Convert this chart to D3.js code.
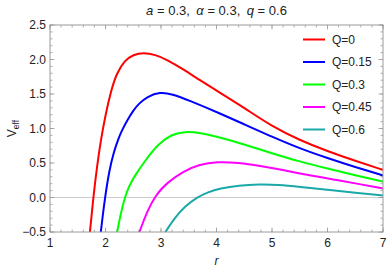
<!DOCTYPE html>
<html>
<head>
<meta charset="utf-8">
<script src="https://cdn.jsdelivr.net/npm/d3@7"></script>
<style>
  body { margin: 0; background: #fff; }
  svg text { font-family: "Liberation Sans", Arial, sans-serif; fill: #222; }
</style>
</head>
<body>
<div id="chart"></div>
<script>
// series: r values and V_eff values
const labels = ["Q=0", "Q=0.15", "Q=0.3", "Q=0.45", "Q=0.6"];
const colors = ["#ff0000", "#0000ff", "#00ff00", "#ff00ff", "#1aa8a8"];

const rQ0 = [1.70, 1.72, 1.78, 1.85, 1.92, 2.0, 2.1, 2.2, 2.35, 2.5, 2.68, 2.9, 3.1, 3.4, 3.7, 4.06, 4.5, 5.0, 5.5, 6.0, 6.5, 7];
const vQ0 = [-0.65, -0.5, 0, 0.47, 0.85, 1.2, 1.55, 1.8, 1.99, 2.07, 2.10, 2.07, 2.0, 1.86, 1.70, 1.52, 1.30, 1.03, 0.83, 0.67, 0.53, 0.40];

const rQ015 = [1.90, 1.915, 1.99, 2.07, 2.15, 2.23, 2.3, 2.4, 2.5, 2.6, 2.75, 2.98, 3.2, 3.5, 4.06, 4.5, 5.0, 5.5, 6.0, 6.5, 7];
const vQ015 = [-0.62, -0.5, 0, 0.40, 0.66, 0.85, 0.98, 1.13, 1.26, 1.36, 1.46, 1.53, 1.50, 1.41, 1.22, 1.06, 0.88, 0.71, 0.57, 0.44, 0.32];

const rQ03 = [2.19, 2.21, 2.27, 2.34, 2.42, 2.53, 2.71, 2.95, 3.2, 3.43, 3.7, 4.06, 4.5, 5.0, 5.5, 6.0, 6.5, 7];
const vQ03 = [-0.6, -0.5, -0.25, -0.02, 0.16, 0.32, 0.53, 0.78, 0.92, 0.955, 0.94, 0.87, 0.77, 0.64, 0.52, 0.42, 0.32, 0.23];

const rQ045 = [2.58, 2.61, 2.75, 2.9, 3.1, 3.4, 3.7, 4.0, 4.4, 4.78, 5.2, 5.6, 6.2, 6.6, 7];
const vQ045 = [-0.58, -0.5, -0.2, 0.03, 0.21, 0.38, 0.48, 0.52, 0.505, 0.46, 0.40, 0.33, 0.25, 0.19, 0.13];

const rQ06 = [3.04, 3.08, 3.25, 3.43, 3.64, 3.85, 4.06, 4.4, 4.78, 5.1, 5.5, 6.0, 6.5, 7];
const vQ06 = [-0.55, -0.5, -0.29, -0.13, 0, 0.08, 0.13, 0.175, 0.19, 0.185, 0.155, 0.11, 0.07, 0.03];

const xTicks = [1, 2, 3, 4, 5, 6, 7];
const yTicks = [-0.5, 0.0, 0.5, 1.0, 1.5, 2.0, 2.5];

const series = [
  [rQ0, vQ0], [rQ015, vQ015], [rQ03, vQ03], [rQ045, vQ045], [rQ06, vQ06]
].map(function(s, i) {
  return { label: labels[i], color: colors[i], pts: s[0].map(function(r, j) { return [r, s[1][j]]; }) };
});

const W = 389, H = 273;
const margin = {top: 25, right: 6, bottom: 41, left: 50};
const w = W - margin.left - margin.right;
const h = H - margin.top - margin.bottom;

const svg = d3.select("#chart").append("svg")
  .attr("width", W)
  .attr("height", H);

const x = d3.scaleLinear().domain([1, 7]).range([0, w]);
const y = d3.scaleLinear().domain([-0.5, 2.5]).range([h, 0]);

const g = svg.append("g")
  .attr("transform", "translate(" + margin.left + "," + margin.top + ")");

svg.append("defs").append("clipPath").attr("id", "clip")
  .append("rect").attr("width", w).attr("height", h);

// zero line
g.append("line")
  .attr("x1", 0).attr("x2", w)
  .attr("y1", y(0)).attr("y2", y(0))
  .style("stroke", "#cccccc")
  .style("stroke-width", 1.2);

// ticks on all four sides, pointing inward
const frameCol = "#9a9a9a";
const xMinor = d3.range(1, 7.001, 0.2);
const yMinor = d3.range(-0.5, 2.5001, 0.1);

function tickLines(vals, len, horizontal) {
  vals.forEach(function(v) {
    if (horizontal) {
      g.append("line").attr("x1", x(v)).attr("x2", x(v)).attr("y1", h).attr("y2", h - len)
        .style("stroke", frameCol).style("stroke-width", 0.8);
      g.append("line").attr("x1", x(v)).attr("x2", x(v)).attr("y1", 0).attr("y2", len)
        .style("stroke", frameCol).style("stroke-width", 0.8);
    } else {
      g.append("line").attr("y1", y(v)).attr("y2", y(v)).attr("x1", 0).attr("x2", len)
        .style("stroke", frameCol).style("stroke-width", 0.8);
      g.append("line").attr("y1", y(v)).attr("y2", y(v)).attr("x1", w).attr("x2", w - len)
        .style("stroke", frameCol).style("stroke-width", 0.8);
    }
  });
}
tickLines(xMinor, 2.5, true);
tickLines(xTicks, 4.5, true);
tickLines(yMinor, 2.5, false);
tickLines(yTicks, 4.5, false);

// curves
const line = d3.line()
  .x(function(d) { return x(d[0]); })
  .y(function(d) { return y(d[1]); })
  .curve(d3.curveBasis);

g.append("g").attr("clip-path", "url(#clip)")
  .selectAll("path")
  .data(series)
  .enter().append("path")
  .attr("d", function(d) { return line(d.pts); })
  .style("fill", "none")
  .style("stroke", function(d) { return d.color; })
  .style("stroke-width", 2);

// frame
g.append("rect")
  .attr("x", 0).attr("y", 0)
  .attr("width", w).attr("height", h)
  .style("fill", "none")
  .style("stroke", frameCol)
  .style("stroke-width", 1);

// tick labels
g.selectAll(".xl").data(xTicks).enter().append("text")
  .attr("x", function(d) { return x(d); })
  .attr("y", h + 15)
  .attr("text-anchor", "middle")
  .style("font-size", "12px")
  .text(function(d) { return d; });

g.selectAll(".yl").data(yTicks).enter().append("text")
  .attr("x", -4)
  .attr("y", function(d) { return y(d) + 4; })
  .attr("text-anchor", "end")
  .style("font-size", "12px")
  .text(function(d) { return (d < 0 ? "\u2212" : "") + Math.abs(d).toFixed(1); });

// axis labels
svg.append("text")
  .attr("x", margin.left + w / 2)
  .attr("y", 265)
  .attr("text-anchor", "middle")
  .style("font-size", "12px")
  .style("font-style", "italic")
  .text("r");

const vl = svg.append("text")
  .attr("transform", "translate(16," + (margin.top + y(1.0)) + ") rotate(-90)")
  .attr("text-anchor", "middle")
  .style("font-size", "12px");
vl.append("tspan").text("V");
vl.append("tspan").attr("dy", 3).style("font-size", "8.5px").text("eff");

// title
const t = svg.append("text")
  .attr("x", margin.left + w / 2)
  .attr("y", 15)
  .attr("text-anchor", "middle")
  .style("font-size", "13px");
t.append("tspan").style("font-style", "italic").text("a");
t.append("tspan").text(" = 0.3,\u2002");
t.append("tspan").style("font-style", "italic").text("\u03b1");
t.append("tspan").text(" = 0.3,\u2002");
t.append("tspan").style("font-style", "italic").text("q");
t.append("tspan").text(" = 0.6");

// legend
const leg = svg.append("g");
series.forEach(function(s, i) {
  const ly = 39.5 + i * 22.5;
  leg.append("line")
    .attr("x1", 303).attr("x2", 325)
    .attr("y1", ly).attr("y2", ly)
    .style("stroke", s.color)
    .style("stroke-width", 2);
  leg.append("text")
    .attr("x", 332)
    .attr("y", ly + 4)
    .style("font-size", "12px")
    .text(s.label);
});
</script>
</body>
</html>
